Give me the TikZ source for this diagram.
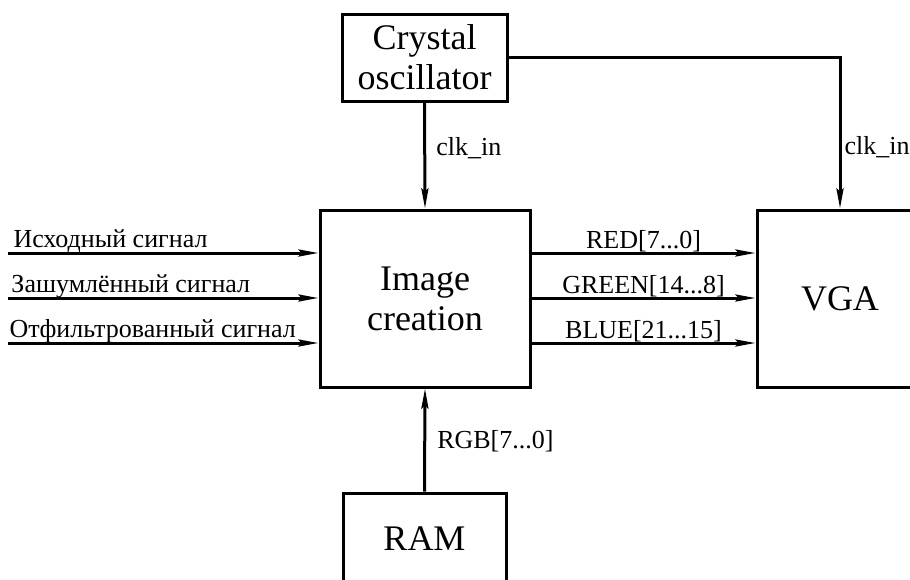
\documentclass[tikz,border=0pt]{standalone}
\usepackage{fontspec}
\setmainfont{Liberation Serif}
\usetikzlibrary{arrows.meta}

\begin{document}
\begin{tikzpicture}[x=1pt, y=-1pt, line width=3pt,
  blk/.style={draw, line width=3pt, inner sep=0pt, align=center, font=\fontsize{36}{40}\selectfont},
  sig/.style={-{Stealth[length=20pt, width=7pt, inset=3pt]}},
  lbl/.style={font=\fontsize{26}{26}\selectfont, inner sep=0pt}]
  \useasboundingbox (0,0) rectangle (910,579);
  \node[blk, minimum width=165pt, minimum height=87pt] (osc) at (424.5,57.5) {Crystal\\oscillator};
  \node[blk, minimum width=210pt, minimum height=177pt] (img) at (425,298.5) {Image\\creation};
  \node[blk, minimum width=166pt, minimum height=177pt] (vga) at (840,298.5) {VGA};
  \node[blk, minimum width=163pt, minimum height=92pt] (ram) at (424.5,539) {RAM};
  \coordinate (in1) at (8,253);
  \coordinate (in2) at (8,298);
  \coordinate (in3) at (8,343);
  \draw[sig] (osc.south) -- node[lbl, anchor=base west, xshift=10pt] {clk\_in} (img.north);
  \draw[sig] (osc.east) -| node[lbl, anchor=base west, xshift=3pt, pos=0.82] {clk\_in} (vga.north);
  \draw[sig] (in1) -- node[lbl, anchor=base west, yshift=6pt, pos=0, xshift=4pt] {Исходный сигнал} (in1 -| img.west);
  \draw[sig] (in2) -- node[lbl, anchor=base west, yshift=6pt, pos=0, xshift=2pt] {Зашумлённый сигнал} (in2 -| img.west);
  \draw[sig] (in3) -- node[lbl, anchor=base west, yshift=6pt, pos=0] {Отфильтрованный сигнал} (in3 -| img.west);
  \draw[sig] (img.east |- in1) -- node[lbl, anchor=base, yshift=5pt] {RED[7...0]} (vga.west |- in1);
  \draw[sig] (img.east |- in2) -- node[lbl, anchor=base, yshift=5pt] {GREEN[14...8]} (vga.west |- in2);
  \draw[sig] (img.east |- in3) -- node[lbl, anchor=base, yshift=5pt] {BLUE[21...15]} (vga.west |- in3);
  \draw[sig] (ram.north) -- node[lbl, anchor=base west, xshift=11pt, yshift=-8pt] {RGB[7...0]} (img.south);
\end{tikzpicture}
\end{document}
